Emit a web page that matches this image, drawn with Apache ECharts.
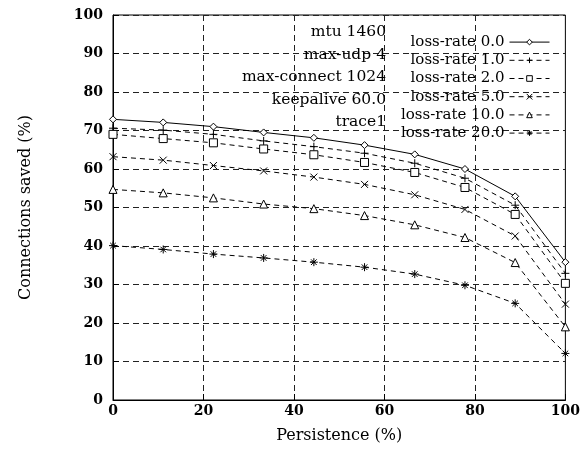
<!DOCTYPE html>
<html><head><meta charset="utf-8">
<script src="https://cdn.jsdelivr.net/npm/echarts@6/dist/echarts.min.js"></script>
<style>html,body{margin:0;padding:0;background:#fff}#c{width:583px;height:450px}</style>
</head><body><div id="c"></div>
<script>
var persistence = [0, 11.1, 22.2, 33.3, 44.4, 55.6, 66.7, 77.8, 88.9, 100];
var loss00 = [72.9, 72.1, 71.0, 69.5, 68.1, 66.2, 63.8, 60.0, 52.9, 35.8];
var loss10 = [70.6, 70.1, 69.0, 67.3, 65.8, 64.1, 61.5, 57.6, 50.6, 32.9];
var loss20 = [69.0, 67.9, 66.8, 65.2, 63.7, 61.7, 59.1, 55.2, 48.2, 30.3];
var loss50 = [63.2, 62.3, 60.9, 59.5, 57.9, 56.0, 53.3, 49.5, 42.6, 24.9];
var loss100 = [54.7, 53.8, 52.5, 50.9, 49.7, 47.9, 45.5, 42.2, 35.7, 19.0];
var loss200 = [40.1, 39.1, 37.9, 36.9, 35.8, 34.5, 32.7, 29.8, 25.1, 12.1];
var seriesNames = ['loss-rate 0.0','loss-rate 1.0','loss-rate 2.0','loss-rate 5.0','loss-rate 10.0','loss-rate 20.0'];
var seriesValues = [loss00, loss10, loss20, loss50, loss100, loss200];
var infoLines = ['mtu 1460','max-udp 4','max-connect 1024','keepalive 60.0','trace1'];

var FONT = 'DejaVu Serif';
var symbols = [
  'diamond',
  'path://M0,5L10,5M5,0L5,10',
  'rect',
  'path://M0,0L10,10M10,0L0,10',
  'triangle',
  'path://M0,5L10,5M5,0L5,10M1.5,1.5L8.5,8.5M8.5,1.5L1.5,8.5'
];
var symSizes = [7, 8, 8, 7, 8, 8];
var series = seriesValues.map(function(vals, i){
  return {
    name: seriesNames[i],
    type: 'line',
    data: vals.map(function(v, j){ return [persistence[j], v]; }),
    symbol: symbols[i],
    symbolSize: symSizes[i],
    showSymbol: true,
    lineStyle: {color:'#000', width:1, type: i === 0 ? 'solid' : [5,4]},
    itemStyle: {color:'#fff', borderColor:'#000', borderWidth:1},
    emphasis: {disabled:true},
    animation: false,
    z: 3
  };
});
var graphics = infoLines.map(function(t, i){
  return {type:'text', x: 386, y: 32 + i*22.6, z: 10,
    style:{text:t, font:'15.5px "' + FONT + '"', fill:'#000', align:'right', verticalAlign:'middle'}};
});
var chart = echarts.init(document.getElementById('c'));
chart.setOption({
  animation:false,
  backgroundColor:'#fff',
  grid:{left:113, right:16, top:15, bottom:50, show:true, borderColor:'#000', borderWidth:1, containLabel:false},
  xAxis:{type:'value', min:0, max:100, interval:20,
    name:'Persistence (%)', nameLocation:'middle', nameGap:28,
    nameTextStyle:{fontFamily:FONT, fontSize:16, color:'#000'},
    axisLine:{show:true, lineStyle:{color:'#000'}},
    axisTick:{show:true, inside:true, length:6, lineStyle:{color:'#000'}},
    axisLabel:{fontFamily:FONT, fontSize:14, fontWeight:'bold', color:'#000', margin:4},
    splitLine:{show:true, lineStyle:{color:'#222', type:[6,4], width:1}}},
  yAxis:{type:'value', min:0, max:100, interval:10,
    name:'Connections saved (%)', nameLocation:'middle', nameGap:79,
    nameTextStyle:{fontFamily:FONT, fontSize:16, color:'#000'},
    axisLine:{show:true, lineStyle:{color:'#000'}},
    axisTick:{show:true, inside:true, length:6, lineStyle:{color:'#000'}},
    axisLabel:{fontFamily:FONT, fontSize:14, fontWeight:'bold', color:'#000', margin:10},
    splitLine:{show:true, lineStyle:{color:'#222', type:[6,4], width:1}}},
  legend:{orient:'vertical', right:28, top:28, align:'right',
    itemWidth:40, itemHeight:7, itemGap:0,
    lineStyle:{width:1, color:'#000'},
    itemStyle:{color:'#fff', borderColor:'#000', borderWidth:1},
    textStyle:{fontFamily:FONT, fontSize:15, color:'#000', lineHeight:18.2},
    data: seriesNames},
  graphic: graphics,
  series: series
});
</script></body></html>
